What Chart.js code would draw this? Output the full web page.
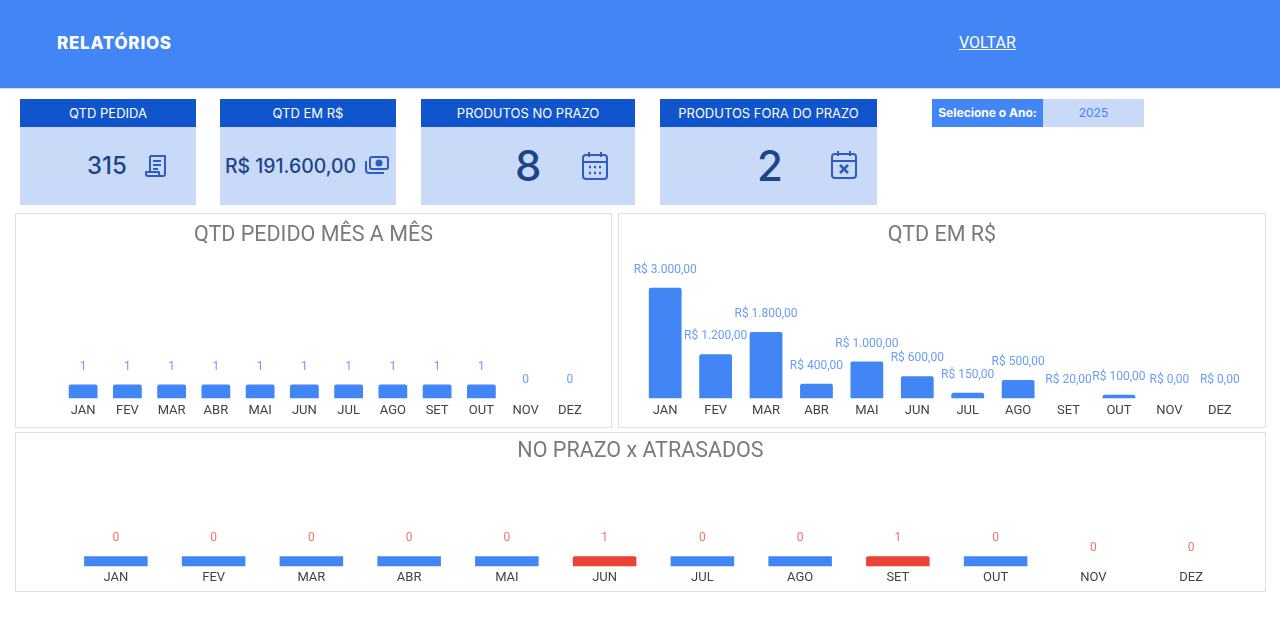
<!DOCTYPE html>
<html lang="pt-BR">
<head>
<meta charset="utf-8">
<title>Relatórios</title>
<script src="https://cdn.jsdelivr.net/npm/chart.js@4"></script>
<style>
    html, body { margin: 0; padding: 0; background: #fff; width: 1280px; height: 630px; overflow: hidden; }
    body { position: relative; font-family: Inter, sans-serif; filter: blur(0.35px); }
    .topo { position: absolute; left: 0; top: 0; width: 1280px; height: 88px; background: #4285f4; border-bottom: 1px solid #d5e2fb; }
    .titulo { position: absolute; left: 57px; top: 33px; color: #fff; font: 800 17px/20px Inter, sans-serif; letter-spacing: .75px; }
    .voltar { position: absolute; left: 959px; top: 34px; color: #fff; font: 16px/18px Roboto, sans-serif; text-decoration: underline; }
    .card { position: absolute; top: 99px; height: 106px; background: #c9daf8; }
    .card .cab { height: 28px; background: #1155cc; color: #fff; font: 400 13px/28px Inter, sans-serif; text-align: center; }
    .card .valor { position: absolute; color: #1c4587; font-family: Inter, sans-serif; font-weight: 500; white-space: nowrap; }
    .card svg { position: absolute; fill: none; stroke: #2f5cc0; stroke-width: 2; stroke-linejoin: round; }
    .ano { position: absolute; left: 932px; top: 99px; width: 212px; height: 28px; font-size: 12px; line-height: 28px; text-align: center; }
    .ano .rot { position: absolute; left: 0; width: 111px; height: 28px; background: #4285f4; color: #fff; font-weight: 700; }
    .ano .val { position: absolute; left: 111px; width: 101px; height: 28px; background: #c9daf8; color: #4285f4; font-weight: 400; }
    .painel { position: absolute; box-sizing: border-box; border: 1px solid #e0e0e0; background: #fff; }
    .painel canvas { position: absolute; left: -1px; top: -1px; }
</style>
</head>
<body>
<div class="topo">
    <div class="titulo">RELATÓRIOS</div>
    <div class="voltar">VOLTAR</div>
</div>

<div class="card" style="left:20px;width:176px">
    <div class="cab">QTD PEDIDA</div>
    <div class="valor" style="left:67px;top:52px;font-size:24px;line-height:30px">315</div>
    <svg style="left:125px;top:55px" width="22" height="24" viewBox="0 0 22 24"><path d="M5 2h15v18a2 2 0 0 1-2 2H3a2 2 0 0 1-2-2v-2h13v2a2 2 0 0 0 2 2M5 18V2M8 7h8M8 11h8M8 15h5"/></svg>
</div>
<div class="card" style="left:220px;width:176px">
    <div class="cab">QTD EM R$</div>
    <div class="valor" style="left:5px;top:55px;font-size:19.4px;line-height:24px">R$ 191.600,00</div>
    <svg style="left:145px;top:56px" width="24" height="20" viewBox="0 0 24 20"><rect x="5" y="2" width="18" height="12" rx="2"/><circle cx="14" cy="8" r="2.5" fill="#2f5cc0"/><path d="M1 6v9a3 3 0 0 0 3 3h15"/></svg>
</div>
<div class="card" style="left:421px;width:214px">
    <div class="cab">PRODUTOS NO PRAZO</div>
    <div class="valor" style="left:94px;top:42px;font-size:42px;line-height:50px">8</div>
    <svg style="left:160px;top:52px" width="28" height="30" viewBox="0 0 28 30"><rect x="2" y="4" width="24" height="24" rx="3"/><path d="M2 11h24M8 1v5M20 1v5"/><path d="M8 16h2M13 16h2M18 16h2M8 22h2M13 22h2M18 22h2" stroke-width="2.4"/></svg>
</div>
<div class="card" style="left:660px;width:217px">
    <div class="cab">PRODUTOS FORA DO PRAZO</div>
    <div class="valor" style="left:97px;top:42px;font-size:42px;line-height:50px">2</div>
    <svg style="left:170px;top:51px" width="28" height="30" viewBox="0 0 28 30"><rect x="2" y="4" width="24" height="24" rx="3"/><path d="M2 11h24M8 1v5M20 1v5"/><path d="M10 15l8 8M18 15l-8 8" stroke-width="2.6"/></svg>
</div>
<div class="ano">
    <div class="rot">Selecione o Ano:</div>
    <div class="val">2025</div>
</div>

<div class="painel" style="left:15px;top:213px;width:597px;height:215px"><canvas id="chartPedidos"></canvas></div>
<div class="painel" style="left:618px;top:213px;width:648px;height:215px"><canvas id="chartValores"></canvas></div>
<div class="painel" style="left:15px;top:432px;width:1251px;height:160px"><canvas id="chartPrazo"></canvas></div>

<script>
const meses = ['JAN', 'FEV', 'MAR', 'ABR', 'MAI', 'JUN', 'JUL', 'AGO', 'SET', 'OUT', 'NOV', 'DEZ'];
const qtdPedidos = [1, 1, 1, 1, 1, 1, 1, 1, 1, 1, 0, 0];
const qtdReais = [3000, 1200, 1800, 400, 1000, 600, 150, 500, 20, 100, 0, 0];
const noPrazo = [1, 1, 1, 1, 1, 0, 1, 1, 0, 1, 0, 0];
const atrasados = [0, 0, 0, 0, 0, 1, 0, 0, 1, 0, 0, 0];

const AZUL = '#4285f4';
const VERMELHO = '#ea4335';

const formatoReais = new Intl.NumberFormat('pt-BR', { minimumFractionDigits: 2, maximumFractionDigits: 2 });

// Título centrado no painel inteiro, não na área do gráfico
const tituloPainel = {
    id: 'tituloPainel',
    afterDraw(chart, args, opts) {
        const ctx = chart.ctx;
        ctx.save();
        ctx.font = '21.5px Roboto';
        ctx.fillStyle = '#7a7a7a';
        ctx.textAlign = 'center';
        ctx.textBaseline = 'middle';
        ctx.fillText(opts.texto, chart.width / 2, opts.y);
        ctx.restore();
    }
};

// Rótulos acima das barras (só o último dataset, por causa do empilhado)
const rotulosBarras = {
    id: 'rotulosBarras',
    afterDatasetsDraw(chart, args, opts) {
        const ctx = chart.ctx;
        const i = chart.data.datasets.length - 1;
        const valores = chart.data.datasets[i].data;
        ctx.save();
        ctx.font = '12px Roboto';
        ctx.fillStyle = opts.cor;
        ctx.textAlign = 'center';
        ctx.textBaseline = 'middle';
        chart.getDatasetMeta(i).data.forEach(function (barra, n) {
            ctx.fillText(opts.formato(valores[n]), barra.x, barra.y - 18);
        });
        ctx.restore();
    }
};

function criarGrafico(id, largura, altura, cfg) {
    const canvas = document.getElementById(id);
    canvas.style.width = largura + 'px';
    canvas.style.height = altura + 'px';
    canvas.width = largura;
    canvas.height = altura;
    return new Chart(canvas, {
        type: 'bar',
        plugins: [tituloPainel, rotulosBarras],
        data: {
            labels: meses,
            datasets: cfg.datasets
        },
        options: {
            responsive: false,
            animation: false,
            devicePixelRatio: 1,
            categoryPercentage: 0.65,
            barPercentage: 1,
            layout: { padding: cfg.padding },
            plugins: {
                legend: { display: false },
                tooltip: { enabled: false },
                tituloPainel: { texto: cfg.titulo, y: cfg.tituloY },
                rotulosBarras: { cor: cfg.corRotulo, formato: cfg.formato }
            },
            scales: {
                x: {
                    stacked: true,
                    grid: { display: false, drawTicks: false },
                    border: { display: false },
                    ticks: {
                        color: '#424242',
                        font: { family: 'Roboto', size: 13 },
                        padding: cfg.folgaTicks,
                        autoSkip: false,
                        maxRotation: 0
                    }
                },
                y: { stacked: true, display: false, min: 0, max: cfg.maximo }
            }
        }
    });
}

document.addEventListener('DOMContentLoaded', function () {
    criarGrafico('chartPedidos', 597, 215, {
        titulo: 'QTD PEDIDO MÊS A MÊS',
        tituloY: 23,
        maximo: 10,
        folgaTicks: 5,
        padding: { left: 46, right: 20, top: 47, bottom: 4 },
        corRotulo: 'rgba(66, 133, 244, 0.8)',
        formato: String,
        datasets: [{ data: qtdPedidos, backgroundColor: AZUL, borderRadius: 2 }]
    });

    criarGrafico('chartValores', 648, 215, {
        titulo: 'QTD EM R$',
        tituloY: 23,
        maximo: 4000,
        folgaTicks: 5,
        padding: { left: 22, right: 21, top: 38, bottom: 4 },
        corRotulo: 'rgba(66, 133, 244, 0.8)',
        formato: function (v) { return 'R$ ' + formatoReais.format(v); },
        datasets: [{
            data: qtdReais,
            // barra de menos de 1px não aparece no original
            backgroundColor: function (c) { return c.raw < 50 ? 'transparent' : AZUL; },
            borderRadius: 2
        }]
    });

    criarGrafico('chartPrazo', 1251, 160, {
        titulo: 'NO PRAZO x ATRASADOS',
        tituloY: 20,
        maximo: 10,
        folgaTicks: 4,
        padding: { left: 52, right: 26, top: 34, bottom: 2 },
        corRotulo: 'rgba(234, 67, 53, 0.75)',
        formato: String,
        datasets: [
            { label: 'No prazo', data: noPrazo, backgroundColor: AZUL },
            { label: 'Atrasados', data: atrasados, backgroundColor: VERMELHO, borderRadius: 2 }
        ]
    });
});
</script>
</body>
</html>
